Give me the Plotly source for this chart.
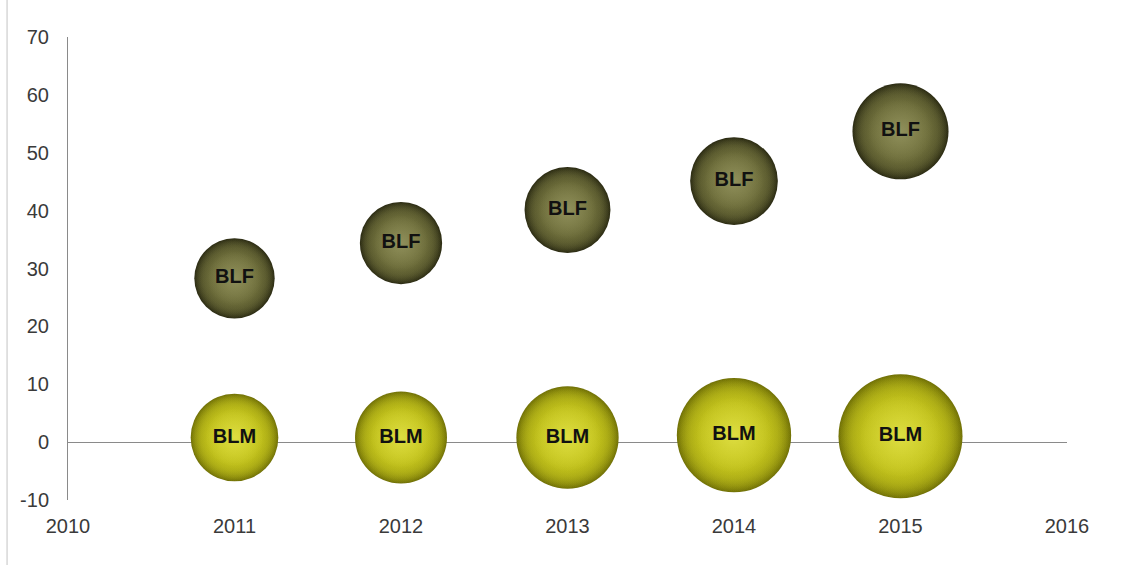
import plotly.graph_objects as go

# Bubble chart: BLF and BLM by year
years = [2011, 2012, 2013, 2014, 2015]
blf_values = [28.3, 34.4, 40.1, 45.1, 53.7]
blm_values = [0.8, 0.8, 0.8, 1.2, 1.0]
blf_sizes = [42, 44, 48, 50, 60]
blm_sizes = [50, 55, 68, 85, 100]
x_ticks = [2010, 2011, 2012, 2013, 2014, 2015, 2016]
y_ticks = [-10, 0, 10, 20, 30, 40, 50, 60, 70]

max_size = max(blf_sizes + blm_sizes)
max_diameter = 124
sizeref = 2.0 * max_size / (max_diameter ** 2)

label_font = dict(family="Liberation Sans, Arial, sans-serif", size=20,
                  color="#111111", weight="bold")


def rgba(c, a):
    return "rgba(%d,%d,%d,%.2f)" % (c[0], c[1], c[2], a)


def sphere(x, y, sizes, name, body, rim, glow):
    # shaded ball built from stacked radial gradients
    # (in plotly, gradient.color is the colour at the centre)
    layers = [dict(scale=1.0, edge=rgba(rim, 1), center=rgba(body, 1))]
    # body-coloured veils keep the darkening close to the rim
    for _ in range(4):
        layers.append(dict(scale=1.0, edge=rgba(body, 0), center=rgba(body, 1)))
    layers.append(dict(scale=0.45, edge=rgba(glow, 0), center=rgba(glow, 0.6)))
    traces = []
    for i, ly in enumerate(layers):
        last = i == len(layers) - 1
        traces.append(go.Scatter(
            x=x, y=y, mode="markers+text" if last else "markers",
            name=name, showlegend=False, cliponaxis=False,
            hoverinfo="x+y+name" if last else "skip",
            text=[name] * len(x) if last else None,
            textposition="middle center", textfont=label_font,
            marker=dict(size=[s * ly["scale"] for s in sizes], sizemode="area",
                        sizeref=sizeref, opacity=1, color=ly["edge"],
                        line=dict(width=0),
                        gradient=dict(type="radial", color=ly["center"])),
        ))
    return traces


fig = go.Figure()
for tr in sphere(years, blf_values, blf_sizes, "BLF",
                 (112, 112, 60), (42, 42, 18), (165, 165, 112)):
    fig.add_trace(tr)
for tr in sphere(years, blm_values, blm_sizes, "BLM",
                 (196, 196, 28), (112, 112, 6), (238, 238, 90)):
    fig.add_trace(tr)

tick_font = dict(family="Liberation Sans, Arial, sans-serif", size=20, color="#3a3a3a")

fig.update_layout(
    width=1125, height=565,
    margin=dict(l=68, r=58, t=37, b=65),
    paper_bgcolor="white", plot_bgcolor="white",
    xaxis=dict(range=[2010, 2016], tickvals=x_ticks, ticktext=[str(t) for t in x_ticks],
               showgrid=False, zeroline=False, showline=False, ticks="",
               tickfont=tick_font, ticklabelstandoff=12, fixedrange=True),
    yaxis=dict(range=[-10, 70], tickvals=y_ticks, ticktext=[str(t) for t in y_ticks],
               showgrid=False,
               zeroline=True, zerolinecolor="#8a8a8a", zerolinewidth=1,
               showline=True, linecolor="#8a8a8a", linewidth=1, ticks="",
               tickfont=tick_font, ticklabelstandoff=14, fixedrange=True),
    shapes=[dict(type="line", xref="paper", yref="paper", layer="below",
                 x0=-0.061, x1=-0.061, y0=-0.15, y1=1.09,
                 line=dict(color="#c4c4c4", width=1))],
)

fig.write_html("out.html")
